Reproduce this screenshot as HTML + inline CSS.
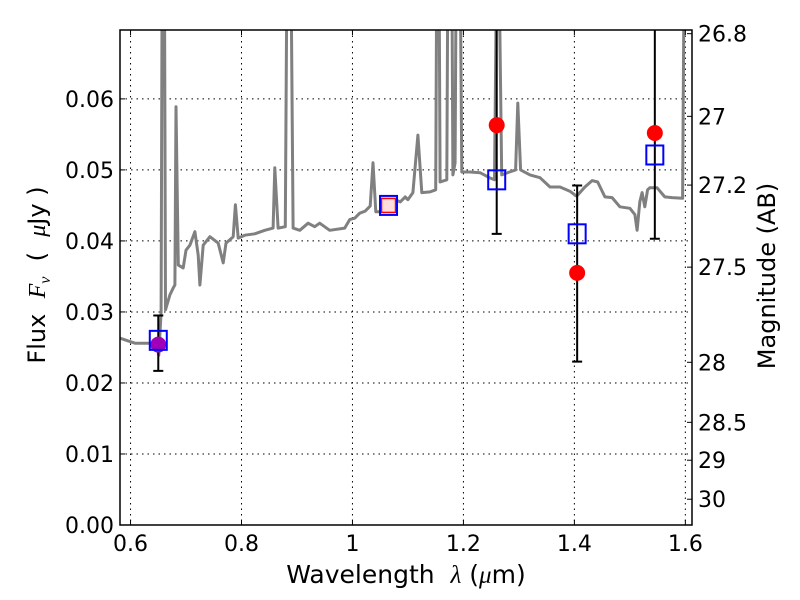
<!DOCTYPE html>
<html><head><meta charset="utf-8"><style>
body{margin:0;background:#fff;}
svg{display:block;font-family:"DejaVu Sans","Liberation Sans",sans-serif;}
.tk{font-size:22px;fill:#000;}
text{white-space:pre;}
</style></head><body>
<svg id="chart" width="800" height="600" viewBox="0 0 800 600" xmlns="http://www.w3.org/2000/svg">
<defs><clipPath id="clip"><rect x="120" y="30" width="572" height="495"/></clipPath></defs>
<g id="grid"></g>
<g id="plot" clip-path="url(#clip)"></g>
<rect x="120" y="30" width="572" height="495" fill="none" stroke="#000" stroke-width="1.5"/>
<g id="axes"></g>
<text x="406" y="583" text-anchor="middle" font-size="25">Wavelength  <tspan font-style="italic" font-family="Liberation Serif, serif">λ</tspan> (<tspan font-style="italic" font-family="Liberation Serif, serif">μ</tspan>m)</text>
<text transform="translate(45,275) rotate(-90)" text-anchor="middle" font-size="24">Flux  <tspan font-style="italic" font-family="Liberation Serif, serif">F<tspan font-size="16" dy="5">ν</tspan></tspan><tspan dy="-5">  (  </tspan><tspan font-style="italic" font-family="Liberation Serif, serif">μ</tspan>Jy )</text>
<text transform="translate(775,276) rotate(-90)" text-anchor="middle" font-size="24">Magnitude (AB)</text>
</svg>
<script>
const specWl=[0.581,0.608,0.635,0.648,0.651,0.655,0.657,0.661,0.663,0.671,0.677,0.680,0.682,0.686,0.695,0.700,0.707,0.716,0.722,0.725,0.731,0.743,0.758,0.767,0.772,0.785,0.789,0.794,0.806,0.824,0.842,0.857,0.860,0.866,0.879,0.882,0.889,0.893,0.905,0.920,0.932,0.941,0.959,0.986,0.995,1.004,1.013,1.023,1.032,1.037,1.042,1.050,1.059,1.068,1.077,1.086,1.095,1.100,1.109,1.118,1.125,1.140,1.150,1.152,1.156,1.158,1.170,1.172,1.179,1.181,1.185,1.187,1.194,1.197,1.212,1.230,1.247,1.256,1.260,1.264,1.269,1.283,1.294,1.298,1.303,1.320,1.338,1.356,1.374,1.392,1.404,1.419,1.432,1.442,1.455,1.468,1.482,1.500,1.509,1.513,1.518,1.522,1.527,1.532,1.536,1.549,1.563,1.576,1.595,1.598,1.612];
const specFlux=[.0263,.0256,.0256,.0250,.0239,.0300,.08,.08,.0303,.0324,.0334,.0338,.0589,.0366,.0362,.0387,.0394,.0413,.0380,.0338,.0394,.0406,.0397,.0369,.0397,.0406,.0451,.0404,.0408,.0410,.0415,.0418,.0503,.0418,.0420,.08,.08,.0418,.0415,.0425,.0420,.0425,.0415,.0418,.0430,.0432,.0439,.0442,.0449,.0510,.0441,.0441,.0444,.0450,.0458,.0455,.0462,.0458,.0468,.0549,.0468,.0469,.0472,.08,.08,.0483,.0486,.08,.08,.0493,.0510,.08,.08,.0497,.0497,.0496,.0489,.0486,.08,.08,.0493,.0497,.0500,.0594,.0500,.0493,.0489,.0476,.0476,.0470,.0463,.0476,.0485,.0483,.0462,.0461,.0448,.0446,.0437,.0415,.0455,.0468,.0448,.0472,.0475,.0475,.0462,.0461,.0460,.08,.08];
const bandWl=[0.65,1.065,1.26,1.405,1.545];
const modelFlux=[0.0260,0.0450,0.0486,0.0410,0.0521];
const obsFlux=[0.0254,0.0450,0.0563,0.0355,0.0552];
const errLow=[0.0217,null,0.0410,0.0230,0.0403];
const errHigh=[0.0295,null,0.0800,0.0478,0.0800];
const xTicks=[0.6,0.8,1.0,1.2,1.4,1.6];
const xTickLabels=["0.6","0.8","1","1.2","1.4","1.6"];
const yTicks=[0,0.01,0.02,0.03,0.04,0.05,0.06];
const yTickLabels=["0.00","0.01","0.02","0.03","0.04","0.05","0.06"];
const magTicks=[26.8,27,27.2,27.5,28,28.5,29,30];
const magTickLabels=["26.8","27","27.2","27.5","28","28.5","29","30"];

const NS="http://www.w3.org/2000/svg";
const X0=120,X1=692,Y0=525,Y1=30,xmin=0.581,xmax=1.612,ymin=0,ymax=0.0697;
const xs=v=>X0+(v-xmin)/(xmax-xmin)*(X1-X0);
const ys=v=>Y0-(v-ymin)/(ymax-ymin)*(Y0-Y1);
const magToFlux=m=>Math.pow(10,(23.9-m)/2.5);
function mk(tag,attrs,parent){const e=document.createElementNS(NS,tag);for(const k in attrs)e.setAttribute(k,attrs[k]);parent.appendChild(e);return e;}
const grid=document.getElementById('grid'),plot=document.getElementById('plot'),axes=document.getElementById('axes');

xTicks.forEach((t,i)=>{
  const x=xs(t);
  const g=mk('line',{x1:x,x2:x,y1:Y1,y2:Y0,stroke:'#000','stroke-width':1,'stroke-dasharray':'1.5,4'},grid);
  
  
  const a=mk('line',{x1:x,x2:x,y1:Y0,y2:Y0-5,stroke:'#000'},axes);
  
  
  const b=mk('line',{x1:x,x2:x,y1:Y1,y2:Y1+5,stroke:'#000'},axes);
  
  
  const l=mk('text',{x:x,y:551,'text-anchor':'middle',class:'tk'},axes);
  l.textContent=xTickLabels[i];
  
  
});
yTicks.forEach((t,i)=>{
  const y=ys(t);
  if(t>0){const g=mk('line',{x1:X0,x2:X1,y1:y,y2:y,stroke:'#000','stroke-width':1,'stroke-dasharray':'1.5,4'},grid);
  
  }
  const a=mk('line',{x1:X0,x2:X0+5,y1:y,y2:y,stroke:'#000'},axes);
  
  
  const l=mk('text',{x:114,y:y+8,'text-anchor':'end',class:'tk'},axes);
  l.textContent=yTickLabels[i];
  
  
});
magTicks.forEach((m,i)=>{
  const y=ys(magToFlux(m));
  const a=mk('line',{x1:X1-5,x2:X1,y1:y,y2:y,stroke:'#000'},axes);
  
  
  const l=mk('text',{x:698,y:y+8,'text-anchor':'start',class:'tk'},axes);
  l.textContent=magTickLabels[i];
  
  
});
const pts=specWl.map((w,i)=>xs(w).toFixed(1)+','+ys(specFlux[i]).toFixed(1)).join(' ');
const sp=mk('polyline',{points:pts,fill:'none',stroke:'#808080','stroke-width':3,'stroke-linejoin':'round'},plot);



bandWl.forEach((w,i)=>{
  const x=xs(w);
  if(errLow[i]!==null){
    const e=mk('path',{d:`M${x},${ys(errLow[i])}V${ys(errHigh[i])}M${x-5},${ys(errLow[i])}h10M${x-5},${ys(errHigh[i])}h10`,stroke:'#000','stroke-width':2,fill:'none'},plot);
    
    
  }
  let o;
  if(i===1){
    o=mk('rect',{x:x-7,y:ys(obsFlux[i])-7,width:14,height:14,fill:'#fdd',stroke:'#f00','stroke-width':1.5},plot);
  } else {
    o=mk('circle',{cx:x,cy:ys(obsFlux[i]),r:8,fill:i===0?'#a000b8':'#f00'},plot);
  }
  
  
  const s=mk('rect',{x:x-8.5,y:ys(modelFlux[i])-9.5,width:17,height:19,fill:'none',stroke:'#00f','stroke-width':2},plot);
  
  
});
</script>
</body></html>
